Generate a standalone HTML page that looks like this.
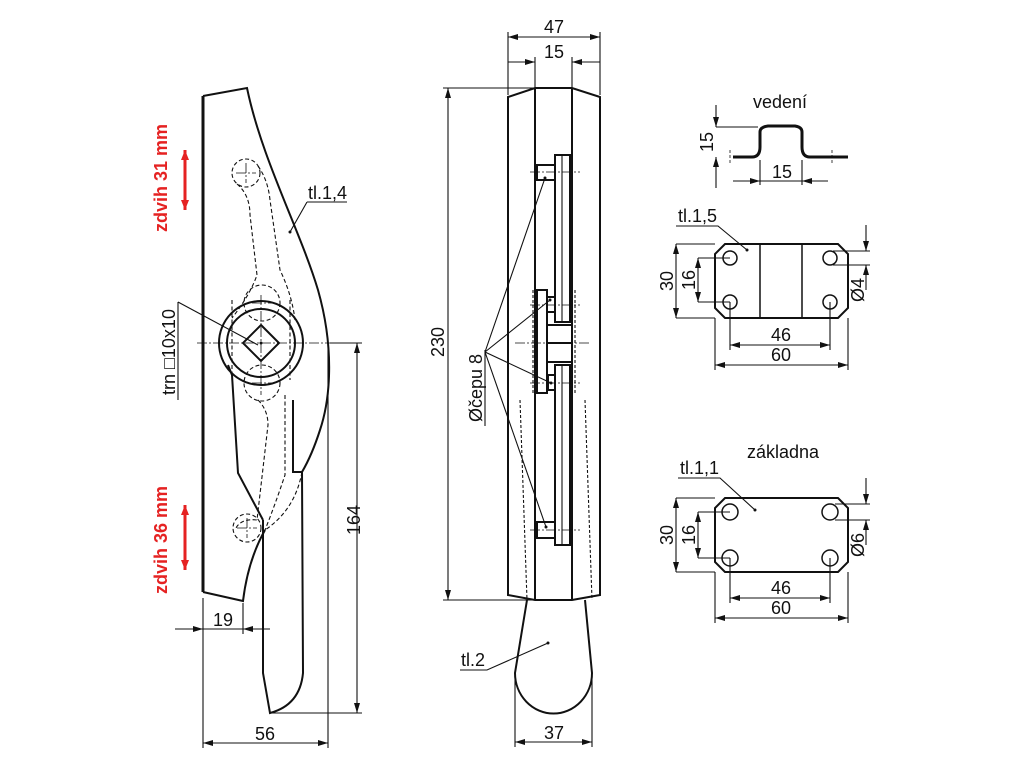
<!DOCTYPE html>
<html><head><meta charset="utf-8"><style>
html,body{margin:0;padding:0;background:#fff;}
svg{display:block}
text{font-family:"Liberation Sans",Arial,sans-serif;fill:#111;}
</style></head><body>
<svg width="1024" height="768" viewBox="0 0 1024 768" xmlns="http://www.w3.org/2000/svg">
<defs>
<marker id="a" viewBox="0 0 10 6" refX="10" refY="3" markerWidth="11" markerHeight="6" orient="auto-start-reverse" markerUnits="userSpaceOnUse"><path d="M0,0 L10,3 L0,6 Z" fill="#111"/></marker>
<marker id="r" viewBox="0 0 10 8" refX="10" refY="4" markerWidth="10" markerHeight="9" orient="auto-start-reverse" markerUnits="userSpaceOnUse"><path d="M0,0 L10,4 L0,8 Z" fill="#e52222"/></marker>
</defs>
<g fill="none" stroke="#111" stroke-width="1.1">
<!-- LEFT PART -->
<path d="M203,96 L203,592" stroke-width="3"/>
<path d="M203,96 L247,88 C262,160 300,230 318,290 C335,350 330,400 320,430 Q312,455 302,472 L293,472 L293,400" stroke-width="2"/>
<path d="M302,472 L303,673 Q300,705 270,713 L263,673 L263,520" stroke-width="2"/>
<path d="M203,592 L243,601 Q248,560 265,530" stroke-width="2"/>
<path d="M263,520 L238,473 L232,375 L228,365" stroke-width="2"/>
<circle cx="261" cy="343" r="42" stroke-width="2"/>
<circle cx="261" cy="343" r="34" stroke-width="2"/>
<path d="M261,325 L279,343 L261,361 L243,343 Z" stroke-width="2"/>
<g stroke-dasharray="4,2.5">
<circle cx="246" cy="173" r="14"/>
<path d="M237,184 Q250,195 250,215 L257,275 Q250,295 232,318"/>
<path d="M258,166 Q268,180 270,200 L280,270 Q292,295 295,320"/>
<circle cx="262" cy="303" r="18"/>
<circle cx="262" cy="383" r="18"/>
<path d="M258,400 Q268,410 268,425 L257,520 Q240,518 235,530"/>
<path d="M285,395 L285,475 Q275,505 265,530"/>
<path d="M302,472 Q295,510 265,530"/>
<circle cx="247" cy="528" r="14"/>
<path d="M232,300 L232,380"/><path d="M290,300 L290,380"/>
</g>
<g stroke-dasharray="10,2,2,2" stroke-width="0.8">
<path d="M197,343 L330,343"/><path d="M261,295 L261,395"/>
<path d="M236,173 L256,173 M246,163 L246,183"/>
<path d="M237,528 L257,528 M247,518 L247,538"/>
<path d="M252,383 L272,383 M252,303 L272,303"/>
</g>
<path d="M330,343 L362,343 M270,713 L362,713"/>
<path d="M357,343 L357,713" marker-start="url(#a)" marker-end="url(#a)"/>
<path d="M203,598 L203,748 M328,345 L328,748"/>
<path d="M203,743 L328,743" marker-start="url(#a)" marker-end="url(#a)"/>
<path d="M243,603 L243,634"/>
<path d="M175,629 L203,629" marker-end="url(#a)"/>
<path d="M270,629 L243,629" marker-end="url(#a)"/>
<path d="M203,629 L243,629"/>
<path d="M178,302 L178,400"/><path d="M178,302 L258,345"/>
<path d="M307,202 L347,202 M307,202 L290,232"/>
<!-- MIDDLE PART -->
<g stroke-width="2">
<path d="M508,97 L535,88 L572,88 L600,97 L600,595 L572,600 L535,600 L508,595 Z"/>
<path d="M535,88 L535,600 M572,88 L572,600"/>
<rect x="555" y="155" width="15" height="167"/>
<rect x="537" y="165" width="18" height="15"/>
<rect x="537" y="290" width="10" height="103"/>
<rect x="547" y="297" width="8" height="15"/>
<path d="M547,325 L572,325 M547,343 L572,343 M547,362 L572,362"/>
<rect x="555" y="365" width="15" height="180"/>
<rect x="537" y="522" width="18" height="16"/>
<rect x="548" y="375" width="7" height="15"/>
</g>
<path d="M562,155 L562,322 M562,365 L562,545"/>
<g stroke-dasharray="3,2">
<path d="M533,290 L533,395 M575,290 L575,395"/>
<path d="M520,400 L527,600 M585,400 L592,600"/>
</g>
<g stroke-dasharray="10,2,2,2" stroke-width="0.8">
<path d="M530,172 L580,172 M530,305 L580,305 M515,343 L590,343 M530,383 L580,383 M530,530 L580,530"/>
</g>
<path d="M527,600 L515,673 A38,40 0 0 0 592,673 L585,600" stroke-width="2"/>
<path d="M515,676 L515,747 M592,676 L592,747"/>
<path d="M515,742 L592,742" marker-start="url(#a)" marker-end="url(#a)"/>
<path d="M460,670 L487,670 L548,643"/>
<path d="M508,95 L508,32 M600,95 L600,32 M535,88 L535,57 M572,88 L572,57"/>
<path d="M508,37 L600,37" marker-start="url(#a)" marker-end="url(#a)"/>
<path d="M508,62 L535,62" marker-end="url(#a)"/><path d="M600,62 L572,62" marker-end="url(#a)"/>
<path d="M443,88 L535,88 M443,600 L535,600"/>
<path d="M448,88 L448,600" marker-start="url(#a)" marker-end="url(#a)"/>
<path d="M485,350 L485,426"/>
<path d="M485,352 L545,178 M485,352 L550,300 M485,352 L551,383 M485,352 L546,527"/>
<!-- RIGHT: vedeni -->
<path d="M733,157 L752,157 Q760,157 760,147 L760,132 Q760,127 768,126 L795,126 Q802,127 802,132 L802,147 Q802,157 810,157 L848,157" stroke-width="3"/>
<path d="M716,127 L758,127"/>
<path d="M716,105 L716,127" marker-end="url(#a)"/><path d="M716,188 L716,157" marker-end="url(#a)"/>
<path d="M760,160 L760,185 M802,160 L802,185"/>
<path d="M733,181 L760,181" marker-end="url(#a)"/><path d="M828,181 L802,181" marker-end="url(#a)"/><path d="M760,181 L802,181"/>
<path d="M730,150 L730,165 M832,150 L832,165" stroke-dasharray="3,2" stroke-width="0.8"/>
<!-- plate 1 -->
<path d="M725,244 L838,244 L848,254 L848,308 L838,318 L725,318 L715,308 L715,254 Z" stroke-width="2"/>
<path d="M760,244 L760,318 M802,244 L802,318" stroke-width="1.5"/>
<circle cx="730" cy="258" r="7" stroke-width="1.5"/><circle cx="730" cy="302" r="7" stroke-width="1.5"/>
<circle cx="830" cy="258" r="7" stroke-width="1.5"/><circle cx="830" cy="302" r="7" stroke-width="1.5"/>
<path d="M676,244 L715,244 M676,318 L715,318"/>
<path d="M676,244 L676,318" marker-start="url(#a)" marker-end="url(#a)"/>
<path d="M698,258 L730,258 M698,302 L730,302"/>
<path d="M698,258 L698,302" marker-start="url(#a)" marker-end="url(#a)"/>
<path d="M730,302 L730,350 M830,302 L830,350 M715,318 L715,370 M848,318 L848,370"/>
<path d="M730,345 L830,345" marker-start="url(#a)" marker-end="url(#a)"/>
<path d="M715,365 L848,365" marker-start="url(#a)" marker-end="url(#a)"/>
<path d="M833,251 L870,251 M833,265 L870,265"/>
<path d="M866,225 L866,251" marker-end="url(#a)"/><path d="M866,290 L866,265" marker-end="url(#a)"/>
<path d="M676,226 L718,226 L747,250"/>
<!-- plate 2 -->
<path d="M725,498 L838,498 L848,508 L848,562 L838,572 L725,572 L715,562 L715,508 Z" stroke-width="2"/>
<circle cx="730" cy="512" r="8" stroke-width="1.5"/><circle cx="730" cy="558" r="8" stroke-width="1.5"/>
<circle cx="830" cy="512" r="8" stroke-width="1.5"/><circle cx="830" cy="558" r="8" stroke-width="1.5"/>
<path d="M676,498 L715,498 M676,572 L715,572"/>
<path d="M676,498 L676,572" marker-start="url(#a)" marker-end="url(#a)"/>
<path d="M698,512 L730,512 M698,558 L730,558"/>
<path d="M698,512 L698,558" marker-start="url(#a)" marker-end="url(#a)"/>
<path d="M730,558 L730,603 M830,558 L830,603 M715,572 L715,623 M848,572 L848,623"/>
<path d="M730,598 L830,598" marker-start="url(#a)" marker-end="url(#a)"/>
<path d="M715,618 L848,618" marker-start="url(#a)" marker-end="url(#a)"/>
<path d="M835,504 L870,504 M835,520 L870,520"/>
<path d="M866,478 L866,504" marker-end="url(#a)"/><path d="M866,545 L866,520" marker-end="url(#a)"/>
<path d="M678,478 L720,478 L755,510"/>
</g>
<g fill="#111">
<circle cx="290" cy="232" r="1.5"/><circle cx="261" cy="343" r="1.5"/><circle cx="548" cy="643" r="1.5"/>
<circle cx="545" cy="178" r="1.5"/><circle cx="550" cy="300" r="1.5"/><circle cx="551" cy="383" r="1.5"/><circle cx="546" cy="527" r="1.5"/>
<circle cx="747" cy="250" r="1.5"/><circle cx="755" cy="510" r="1.5"/>
</g>
<path d="M185,150 L185,210" stroke="#e52222" stroke-width="3" marker-start="url(#r)" marker-end="url(#r)"/>
<path d="M185,505 L185,570" stroke="#e52222" stroke-width="3" marker-start="url(#r)" marker-end="url(#r)"/>
<g font-size="18">
<text x="167" y="178" transform="rotate(-90 167 178)" text-anchor="middle" style="fill:#e52222;font-weight:bold">zdvih 31 mm</text>
<text x="167" y="540" transform="rotate(-90 167 540)" text-anchor="middle" style="fill:#e52222;font-weight:bold">zdvih 36 mm</text>
<text x="175" y="352" transform="rotate(-90 175 352)" text-anchor="middle">trn □10x10</text>
<text x="308" y="199">tl.1,4</text>
<text x="360" y="520" transform="rotate(-90 360 520)" text-anchor="middle">164</text>
<text x="265" y="740" text-anchor="middle">56</text>
<text x="223" y="626" text-anchor="middle">19</text>
<text x="554" y="33" text-anchor="middle">47</text>
<text x="554" y="58" text-anchor="middle">15</text>
<text x="444" y="342" transform="rotate(-90 444 342)" text-anchor="middle">230</text>
<text x="482" y="388" transform="rotate(-90 482 388)" text-anchor="middle">Øčepu 8</text>
<text x="461" y="666">tl.2</text>
<text x="554" y="739" text-anchor="middle">37</text>
<text x="780" y="108" text-anchor="middle">vedení</text>
<text x="713" y="142" transform="rotate(-90 713 142)" text-anchor="middle">15</text>
<text x="782" y="178" text-anchor="middle">15</text>
<text x="678" y="222">tl.1,5</text>
<text x="673" y="281" transform="rotate(-90 673 281)" text-anchor="middle">30</text>
<text x="695" y="280" transform="rotate(-90 695 280)" text-anchor="middle">16</text>
<text x="781" y="341" text-anchor="middle">46</text>
<text x="781" y="361" text-anchor="middle">60</text>
<text x="864" y="290" transform="rotate(-90 864 290)" text-anchor="middle">Ø4</text>
<text x="783" y="458" text-anchor="middle">základna</text>
<text x="680" y="474">tl.1,1</text>
<text x="673" y="535" transform="rotate(-90 673 535)" text-anchor="middle">30</text>
<text x="695" y="535" transform="rotate(-90 695 535)" text-anchor="middle">16</text>
<text x="781" y="594" text-anchor="middle">46</text>
<text x="781" y="614" text-anchor="middle">60</text>
<text x="864" y="545" transform="rotate(-90 864 545)" text-anchor="middle">Ø6</text>
</g>
</svg>
</body></html>
